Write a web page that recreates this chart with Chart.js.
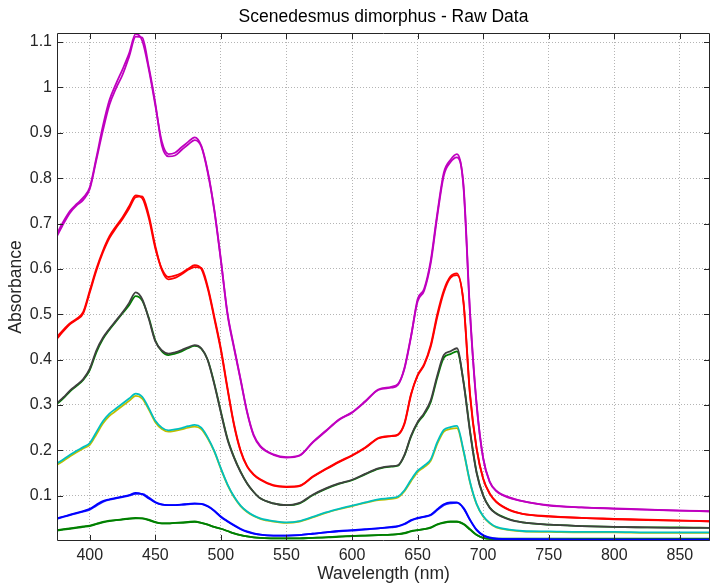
<!DOCTYPE html>
<html>
<head>
<meta charset="utf-8">
<script src="https://cdn.jsdelivr.net/npm/chart.js@4.4.0/dist/chart.umd.min.js"></script>
<style>
  html, body { margin: 0; padding: 0; background: #fff; }
  canvas { display: block; }
</style>
</head>
<body>
<canvas id="chart" width="711" height="587"></canvas>
<script>
// wavelength (nm)
const wl = [375,380,385,390,395,400,405,410,415,420,
  425,430,435,440,445,450,455,460,465,470,
  475,480,485,490,495,500,505,510,515,520,
  525,530,540,550,560,570,580,590,600,610,
  620,630,635,640,645,650,655,660,665,670,
  675,680,685,690,695,700,705,710,720,730,
  750,775,800,825,850,873];

// absorbance, two replicates per sample
const magenta1 = [0.678,0.705,0.728,0.743,0.757,0.780,0.845,0.915,0.972,1.008,
  1.040,1.075,1.118,1.103,1.040,0.960,0.880,0.853,0.856,0.868,
  0.880,0.890,0.872,0.815,0.730,0.620,0.500,0.425,0.355,0.283,
  0.232,0.208,0.190,0.184,0.188,0.218,0.243,0.268,0.284,0.308,
  0.334,0.340,0.346,0.380,0.450,0.533,0.556,0.618,0.722,0.812,
  0.840,0.853,0.780,0.500,0.300,0.182,0.130,0.110,0.095,0.088,
  0.078,0.074,0.072,0.069,0.067,0.066];
const magenta2 = [0.672,0.700,0.724,0.740,0.752,0.776,0.840,0.905,0.962,0.998,
  1.028,1.068,1.112,1.110,1.045,0.965,0.872,0.848,0.850,0.862,
  0.874,0.884,0.870,0.812,0.728,0.618,0.503,0.428,0.357,0.285,
  0.234,0.210,0.191,0.185,0.189,0.217,0.242,0.267,0.283,0.307,
  0.333,0.338,0.344,0.382,0.452,0.528,0.552,0.612,0.716,0.806,
  0.835,0.846,0.785,0.505,0.303,0.183,0.131,0.111,0.096,0.088,
  0.079,0.074,0.071,0.069,0.067,0.065];
const red1 = [0.450,0.466,0.480,0.490,0.505,0.552,0.600,0.640,0.672,0.694,
  0.714,0.738,0.762,0.756,0.712,0.645,0.600,0.582,0.585,0.591,
  0.600,0.608,0.600,0.556,0.490,0.420,0.335,0.255,0.198,0.164,
  0.146,0.135,0.122,0.119,0.121,0.141,0.158,0.174,0.188,0.205,
  0.226,0.231,0.234,0.258,0.322,0.366,0.390,0.432,0.500,0.553,
  0.583,0.590,0.525,0.320,0.203,0.137,0.104,0.086,0.068,0.060,
  0.054,0.051,0.048,0.046,0.045,0.043];
const red2 = [0.446,0.463,0.478,0.488,0.502,0.548,0.596,0.636,0.668,0.690,
  0.710,0.733,0.758,0.760,0.718,0.650,0.597,0.577,0.580,0.588,
  0.598,0.604,0.602,0.560,0.494,0.424,0.338,0.258,0.200,0.165,
  0.147,0.136,0.123,0.120,0.122,0.142,0.159,0.175,0.189,0.206,
  0.227,0.232,0.235,0.260,0.324,0.364,0.388,0.428,0.494,0.548,
  0.580,0.586,0.528,0.324,0.205,0.138,0.105,0.087,0.069,0.060,
  0.055,0.051,0.049,0.047,0.045,0.044];
const gray1 = [0.304,0.317,0.332,0.344,0.357,0.380,0.420,0.448,0.468,0.486,
  0.504,0.525,0.548,0.533,0.490,0.440,0.420,0.413,0.416,0.421,
  0.427,0.432,0.425,0.398,0.345,0.283,0.224,0.184,0.152,0.127,
  0.108,0.094,0.083,0.079,0.084,0.102,0.116,0.127,0.135,0.148,
  0.160,0.165,0.167,0.190,0.232,0.262,0.282,0.310,0.365,0.410,
  0.418,0.425,0.350,0.240,0.150,0.100,0.073,0.060,0.047,0.041,
  0.036,0.033,0.031,0.030,0.029,0.029];
const green1 = [0.302,0.315,0.330,0.342,0.355,0.377,0.416,0.445,0.466,0.484,
  0.502,0.520,0.540,0.530,0.492,0.442,0.418,0.410,0.413,0.418,
  0.425,0.430,0.424,0.399,0.347,0.285,0.226,0.185,0.153,0.127,
  0.108,0.094,0.083,0.079,0.083,0.101,0.115,0.126,0.134,0.147,
  0.159,0.164,0.166,0.189,0.230,0.260,0.279,0.306,0.360,0.404,
  0.412,0.418,0.352,0.243,0.152,0.101,0.074,0.061,0.048,0.041,
  0.036,0.033,0.031,0.030,0.030,0.029];
const cyan1 = [0.171,0.180,0.190,0.199,0.207,0.216,0.240,0.264,0.281,0.292,
  0.303,0.314,0.325,0.318,0.293,0.265,0.250,0.244,0.246,0.249,
  0.253,0.256,0.250,0.228,0.198,0.160,0.125,0.098,0.078,0.065,
  0.056,0.050,0.044,0.041,0.044,0.053,0.063,0.071,0.078,0.085,
  0.092,0.095,0.098,0.112,0.135,0.155,0.166,0.180,0.218,0.245,
  0.251,0.254,0.200,0.130,0.082,0.055,0.040,0.031,0.025,0.022,
  0.021,0.020,0.020,0.019,0.019,0.019];
const yellow1 = [0.168,0.177,0.187,0.196,0.204,0.212,0.235,0.259,0.276,0.287,
  0.298,0.309,0.320,0.314,0.290,0.262,0.247,0.241,0.243,0.246,
  0.250,0.252,0.247,0.226,0.197,0.159,0.124,0.097,0.077,0.064,
  0.055,0.049,0.043,0.040,0.043,0.052,0.062,0.070,0.077,0.084,
  0.090,0.093,0.096,0.110,0.132,0.152,0.163,0.177,0.214,0.241,
  0.247,0.249,0.198,0.129,0.081,0.054,0.039,0.030,0.024,0.021,
  0.020,0.019,0.019,0.018,0.018,0.018];
const blue1 = [0.050,0.054,0.058,0.062,0.066,0.071,0.080,0.088,0.092,0.095,
  0.098,0.101,0.106,0.103,0.094,0.085,0.080,0.079,0.079,0.080,
  0.082,0.083,0.082,0.076,0.066,0.053,0.043,0.034,0.026,0.020,
  0.016,0.014,0.012,0.012,0.013,0.016,0.019,0.022,0.024,0.026,
  0.028,0.031,0.033,0.038,0.046,0.051,0.054,0.058,0.070,0.081,
  0.085,0.085,0.072,0.046,0.024,0.012,0.007,0.005,0.004,0.004,
  0.003,0.003,0.003,0.003,0.003,0.003];
const blue2 = [0.049,0.053,0.057,0.061,0.065,0.069,0.078,0.086,0.091,0.094,
  0.097,0.100,0.104,0.104,0.096,0.086,0.081,0.079,0.079,0.080,
  0.081,0.082,0.082,0.077,0.067,0.054,0.044,0.035,0.027,0.021,
  0.017,0.014,0.012,0.012,0.013,0.016,0.019,0.021,0.023,0.025,
  0.028,0.030,0.032,0.037,0.045,0.050,0.053,0.057,0.068,0.079,
  0.083,0.084,0.073,0.047,0.025,0.013,0.008,0.005,0.004,0.004,
  0.004,0.003,0.003,0.003,0.003,0.003];
const dkgreen1 = [0.024,0.026,0.028,0.030,0.032,0.034,0.038,0.042,0.045,0.046,
  0.048,0.050,0.051,0.050,0.046,0.041,0.039,0.039,0.040,0.041,
  0.042,0.043,0.040,0.036,0.031,0.027,0.022,0.017,0.013,0.010,
  0.008,0.007,0.006,0.006,0.006,0.007,0.008,0.010,0.011,0.012,
  0.013,0.014,0.015,0.018,0.022,0.024,0.026,0.030,0.037,0.041,
  0.043,0.043,0.037,0.025,0.013,0.007,0.005,0.004,0.004,0.004,
  0.004,0.004,0.004,0.004,0.004,0.004];
const dkgreen2 = [0.023,0.025,0.027,0.029,0.031,0.033,0.037,0.041,0.044,0.046,
  0.047,0.049,0.050,0.050,0.047,0.042,0.039,0.039,0.040,0.040,
  0.041,0.042,0.040,0.036,0.031,0.027,0.022,0.017,0.013,0.010,
  0.008,0.007,0.006,0.006,0.006,0.007,0.008,0.009,0.011,0.012,
  0.013,0.014,0.015,0.017,0.021,0.024,0.026,0.029,0.036,0.040,
  0.042,0.042,0.038,0.026,0.014,0.007,0.005,0.005,0.005,0.005,
  0.005,0.005,0.005,0.005,0.005,0.005];

const xTicks = [400,450,500,550,600,650,700,750,800,850];
const yTicks = [0.1,0.2,0.3,0.4,0.5,0.6,0.7,0.8,0.9,1,1.1];

// chart.js paints the first dataset last, so the top line of each pair comes first
const series = [
  { data: magenta1, color: '#bf00bf' },
  { data: magenta2, color: '#bf00bf' },
  { data: red1, color: '#ff0000' },
  { data: red2, color: '#ff0000' },
  { data: gray1, color: '#404040' },
  { data: green1, color: '#008000' },
  { data: cyan1, color: '#00bfbf' },
  { data: yellow1, color: '#bfbf00' },
  { data: blue1, color: '#0000ff' },
  { data: blue2, color: '#1a1aff' },
  { data: dkgreen1, color: '#008000' },
  { data: dkgreen2, color: '#008000' }
];

const axisColor = '#262626';
const fontFamily = "'Liberation Sans', Arial, Helvetica, sans-serif";

// box around the axes with inward tick marks
const framePlugin = {
  id: 'frame',
  afterDraw(chart) {
    const ctx = chart.ctx;
    const a = chart.chartArea;
    const xs = chart.scales.x, ys = chart.scales.y;
    ctx.save();
    ctx.strokeStyle = axisColor;
    ctx.lineWidth = 1;
    ctx.beginPath();
    ctx.rect(Math.round(a.left) + 0.5, Math.round(a.top) + 0.5,
      Math.round(a.right - a.left) - 1, Math.round(a.bottom - a.top) - 1);
    xTicks.forEach(v => {
      const px = Math.round(xs.getPixelForValue(v)) + 0.5;
      ctx.moveTo(px, a.bottom); ctx.lineTo(px, a.bottom - 6);
      ctx.moveTo(px, a.top); ctx.lineTo(px, a.top + 6);
    });
    yTicks.forEach(v => {
      const py = Math.round(ys.getPixelForValue(v)) + 0.5;
      ctx.moveTo(a.left, py); ctx.lineTo(a.left + 6, py);
      ctx.moveTo(a.right, py); ctx.lineTo(a.right - 6, py);
    });
    ctx.stroke();
    ctx.restore();
  }
};

new Chart(document.getElementById('chart'), {
  type: 'line',
  data: {
    datasets: series.map(s => ({
      data: wl.map((w, i) => ({ x: w, y: s.data[i] })),
      borderColor: s.color,
      borderWidth: 1.8,
      pointRadius: 0,
      cubicInterpolationMode: 'monotone',
      fill: false
    }))
  },
  options: {
    responsive: false,
    animation: false,
    devicePixelRatio: 1,
    layout: { padding: { left: 0, right: 1, top: 0, bottom: 0 } },
    plugins: {
      legend: { display: false },
      tooltip: { enabled: false },
      title: {
        display: true,
        text: 'Scenedesmus dimorphus - Raw Data',
        fullSize: false,
        color: '#000',
        font: { family: fontFamily, size: 17.5, weight: 'normal' },
        padding: { top: 7, bottom: 5 }
      }
    },
    scales: {
      x: {
        type: 'linear',
        min: 375,
        max: 873,
        afterBuildTicks: s => { s.ticks = xTicks.map(v => ({ value: v })); },
        afterFit: s => { s.height = 46; },
        grid: { color: '#b4b4b4', lineWidth: 1, drawTicks: false },
        border: { display: false, dash: [1, 2] },
        ticks: {
          padding: 5,
          color: axisColor,
          maxRotation: 0,
          font: { family: fontFamily, size: 16 }
        },
        title: {
          display: true,
          text: 'Wavelength (nm)',
          color: axisColor,
          font: { family: fontFamily, size: 17.5 },
          padding: { top: 0, bottom: 2 }
        }
      },
      y: {
        type: 'linear',
        min: 0,
        max: 1.12,
        afterBuildTicks: s => { s.ticks = yTicks.map(v => ({ value: v })); },
        afterFit: s => { s.width = 57; },
        grid: { color: '#b4b4b4', lineWidth: 1, drawTicks: false },
        border: { display: false, dash: [1, 2] },
        ticks: {
          padding: 5,
          color: axisColor,
          font: { family: fontFamily, size: 16 },
          callback: v => String(Number(v.toFixed(2)))
        },
        title: {
          display: true,
          text: 'Absorbance',
          color: axisColor,
          font: { family: fontFamily, size: 17.5 },
          padding: { top: 6, bottom: 0 }
        }
      }
    }
  },
  plugins: [framePlugin]
});
</script>
</body>
</html>
